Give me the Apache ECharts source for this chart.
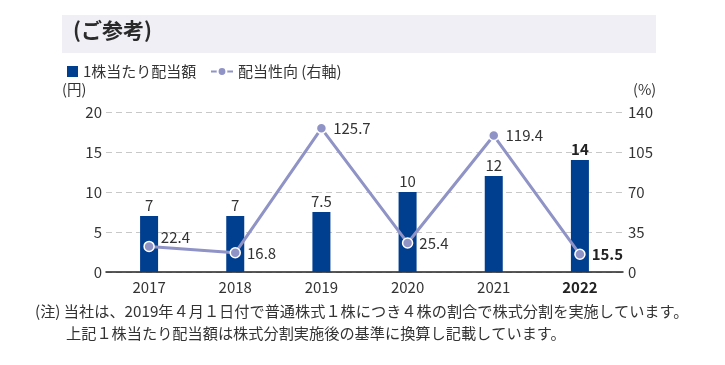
<!DOCTYPE html>
<html><head><meta charset="utf-8">
<script src="https://cdn.jsdelivr.net/npm/echarts@6/dist/echarts.min.js"></script>
<style>html,body{margin:0;padding:0;background:#fff}#c{width:725px;height:365px}</style>
</head><body><div id="c"></div>
<script>
const categories = ['2017','2018','2019','2020','2021','2022'];
const dividend = [7, 7, 7.5, 10, 12, 14];
const payoutRatio = [22.4, 16.8, 125.7, 25.4, 119.4, 15.5];
const dividendLabels = ['7','7','7.5','10','12','14'];
const payoutLabels = ['22.4','16.8','125.7','25.4','119.4','15.5'];
const leftTicks = [0,5,10,15,20];
const rightTicks = [0,35,70,105,140];

const FONT = '"Noto Sans CJK JP", "Noto Sans", sans-serif';
const TXT = '#333';
const chart = echarts.init(document.getElementById('c'), null, {renderer:'canvas'});
const last = categories.length - 1;
chart.setOption({
  animation: false,
  textStyle: {fontFamily: FONT},
  graphic: [
    {type:'rect', shape:{x:62,y:15,width:594,height:38}, style:{fill:'#f0eff6'}},
    {type:'text', left:73, top:20, style:{text:'(ご参考)', font:'bold 21px ' + FONT, fill:'#2a2a2a'}},
    {type:'text', left:62, top:82, style:{text:'(円)', font:'14.5px ' + FONT, fill:TXT}},
    {type:'text', left:633, top:82, style:{text:'(%)', font:'14.5px ' + FONT, fill:TXT}},
    {type:'text', left:35, top:304, style:{text:'(注) 当社は、2019年４月１日付で普通株式１株につき４株の割合で株式分割を実施しています。', font:'15.2px ' + FONT, fill:TXT}},
    {type:'text', left:66, top:326, style:{text:'上記１株当たり配当額は株式分割実施後の基準に換算し記載しています。', font:'15.2px ' + FONT, fill:TXT}}
  ],
  legend: [
    {left: 62, top: 59, itemWidth: 11, itemHeight: 11, itemGap: 6,
     textStyle: {fontSize: 15, color: TXT, fontFamily: FONT},
     data: [{name:'1株当たり配当額', icon:'rect'}]},
    {left: 205, top: 59, itemWidth: 22, itemHeight: 11,
     textStyle: {fontSize: 15, color: TXT, fontFamily: FONT},
     data: [{name:'配当性向 (右軸)'}]}
  ],
  grid: {left:106, right:102, top:112, bottom:93},
  xAxis: {
    type:'category', data: categories,
    axisTick:{show:false},
    axisLine:{lineStyle:{color:'#222', width:1.5}},
    axisLabel:{
      margin:8, fontSize:15, color:TXT, fontFamily:FONT,
      formatter: (v, i) => i === last ? '{b|' + v + '}' : v,
      rich:{b:{fontWeight:'bold', fontSize:15, color:'#222', fontFamily:FONT}}
    }
  },
  yAxis: [
    {type:'value', min:leftTicks[0], max:leftTicks[leftTicks.length-1], interval:5,
     axisLine:{show:false}, axisTick:{show:false},
     axisLabel:{fontSize:15, color:TXT, margin:4, fontFamily:FONT},
     splitLine:{lineStyle:{color:'#c8c8c8', type:[6,4]}}},
    {type:'value', min:rightTicks[0], max:rightTicks[rightTicks.length-1], interval:35,
     axisLine:{show:false}, axisTick:{show:false},
     axisLabel:{fontSize:15, color:TXT, margin:5, fontFamily:FONT},
     splitLine:{show:false}}
  ],
  series: [
    {name:'1株当たり配当額', type:'bar', yAxisIndex:0, barWidth:18,
     itemStyle:{color:'#003e8f'},
     data: dividend.map((v,i)=>({value:v, label:{fontWeight: i===last?'bold':'normal', color: i===last?'#222':TXT}})),
     label:{show:true, position:'top', distance:3, fontSize:15, color:TXT, fontFamily:FONT,
       formatter: p => dividendLabels[p.dataIndex]}
    },
    {name:'配当性向 (右軸)', type:'line', yAxisIndex:1, z:5,
     symbol:'circle', symbolSize:10,
     lineStyle:{color:'#8f93c6', width:3},
     itemStyle:{color:'#8f93c6', borderColor:'#fff', borderWidth:1.5},
     data: payoutRatio.map((v,i)=>({value:v, label: i===0 ? {offset:[0,-9]} : (i===last ? {fontWeight:'bold', color:'#222'} : {})})),
     label:{show:true, position:'right', distance:6, fontSize:15, color:TXT, fontFamily:FONT,
       formatter: p => payoutLabels[p.dataIndex]}
    }
  ]
});
</script></body></html>
